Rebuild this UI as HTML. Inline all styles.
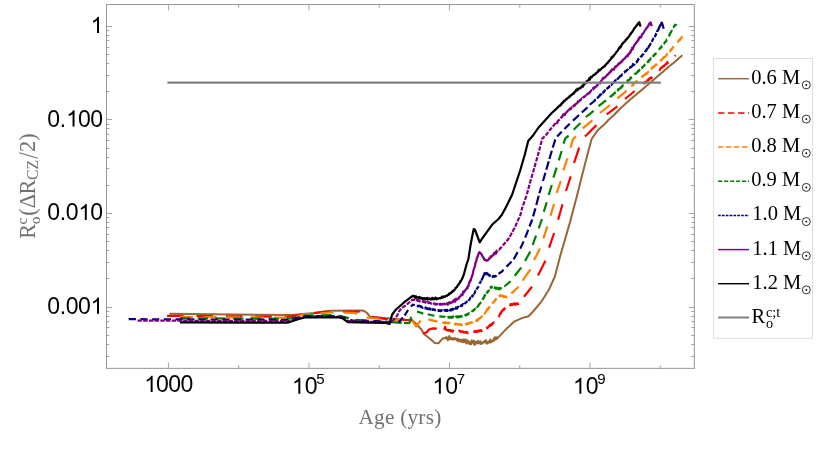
<!DOCTYPE html>
<html><head><meta charset="utf-8"><title>Plot</title>
<style>html,body{margin:0;padding:0;background:#fff;}svg{display:block;will-change:transform;}.sans{font-family:"Liberation Sans",sans-serif;}.serif{font-family:"Liberation Serif",serif;}</style>
</head><body>
<svg width="830" height="449" viewBox="0 0 830 449">
<rect width="830" height="449" fill="#fff"/>
<g fill="none" stroke-linejoin="round" stroke-linecap="butt">
<path d="M169.3,313.8 L292.0,315.0 L314.0,313.0 L329.8,310.7 L362.3,310.4 L365.0,311.5 L367.0,313.0 L370.0,316.7 L390.0,318.5 L405.0,319.8 L411.7,319.9 L414.3,322.0 L421.9,330.0 L423.4,333.4 L432.9,341.3 L434.5,342.9 L438.6,343.2 L440.0,341.4 L443.0,338.2 L446.0,338.2 L446.3,337.0 L446.7,337.1 L447.0,338.0 L447.0,337.8 L447.3,338.7 L447.6,339.6 L448.0,340.1 L448.3,337.8 L448.6,338.6 L449.0,337.5 L449.3,336.1 L449.6,338.9 L450.0,338.2 L450.3,337.5 L450.6,339.0 L450.9,339.4 L451.3,338.5 L451.6,338.2 L451.9,339.2 L452.3,339.4 L452.6,338.2 L452.9,338.4 L453.3,338.6 L453.6,339.6 L453.9,338.7 L454.2,339.3 L454.5,338.8 L454.6,337.9 L454.9,338.4 L455.2,338.2 L455.6,338.5 L455.9,339.3 L456.2,339.6 L456.6,339.9 L456.9,339.3 L457.2,338.8 L457.5,340.6 L457.9,338.7 L458.2,341.3 L458.5,339.1 L458.9,340.0 L459.2,340.1 L459.5,340.8 L459.9,340.7 L460.2,340.2 L460.5,341.6 L460.8,339.5 L461.2,340.8 L461.5,341.8 L461.7,340.7 L461.8,340.0 L462.2,341.5 L462.5,340.0 L462.8,341.6 L463.2,342.2 L463.5,339.4 L463.8,342.1 L464.1,339.4 L464.5,340.9 L464.8,340.8 L465.1,341.8 L465.5,342.5 L465.8,339.4 L466.1,341.3 L466.5,343.5 L466.8,342.4 L467.1,341.9 L467.4,340.3 L467.8,341.0 L468.1,341.9 L468.4,342.7 L468.8,343.4 L468.9,341.8 L469.1,342.8 L469.4,343.9 L469.8,343.9 L470.1,341.7 L470.4,344.0 L470.7,342.9 L471.1,344.2 L471.4,343.1 L471.7,340.3 L472.1,341.7 L472.4,341.6 L472.7,342.1 L473.1,342.9 L473.4,341.8 L473.7,340.7 L474.0,344.6 L474.4,341.2 L474.7,342.2 L475.0,341.6 L475.4,344.6 L475.7,342.2 L476.0,343.0 L476.2,342.7 L476.4,342.9 L476.7,342.8 L477.0,341.6 L477.3,342.2 L477.7,343.3 L478.0,341.8 L478.3,340.7 L478.7,343.6 L479.0,342.1 L479.3,342.0 L479.7,342.6 L480.0,343.2 L480.3,342.2 L480.6,341.2 L481.0,344.1 L481.3,343.5 L481.6,343.3 L482.0,343.4 L482.3,342.6 L482.6,343.5 L483.0,342.6 L483.3,342.4 L483.4,342.5 L483.6,342.3 L483.9,341.4 L484.3,341.3 L484.6,341.4 L484.9,341.8 L485.3,342.3 L485.6,342.7 L485.9,340.1 L486.3,341.3 L486.6,342.7 L486.9,343.8 L487.2,342.7 L487.6,342.0 L487.9,342.7 L488.2,342.6 L488.6,341.5 L488.9,342.7 L489.2,341.7 L489.6,341.8 L489.9,341.9 L490.2,339.4 L490.5,342.0 L490.6,341.4 L490.9,342.6 L491.2,341.8 L491.5,341.9 L491.9,340.9 L492.2,341.1 L492.5,341.2 L492.9,340.9 L493.2,340.0 L493.5,340.9 L493.8,338.4 L494.2,340.5 L494.5,339.6 L494.8,337.2 L495.0,339.0 L495.2,339.6 L495.5,339.5 L495.8,339.3 L496.2,338.5 L496.5,337.3 L496.8,338.9 L500.0,335.6 L506.8,328.4 L514.6,321.3 L522.4,317.9 L528.6,316.2 L534.0,310.5 L541.1,301.8 L542.8,299.4 L549.4,288.7 L554.8,276.7 L560.4,255.2 L569.4,224.4 L577.2,195.0 L582.8,172.4 L588.0,152.4 L591.6,139.0 L595.8,133.0 L598.0,130.0 L605.0,123.7 L608.9,119.5 L614.0,115.0 L620.0,108.8 L630.0,99.7 L643.4,88.4 L656.8,77.0 L665.0,70.0 L670.0,65.7 L673.8,62.7 L682.4,55.2" stroke="#996633" stroke-width="2.0"/>
<path d="M167.1,315.8 L183.6,315.9 M196.5,316.0 L213.0,316.2 M225.9,316.3 L242.4,316.4 M255.3,316.5 L271.8,316.7 M284.7,316.8 L287.0,316.8 L292.0,316.2 L298.0,315.2 L301.1,314.7 M313.9,313.1 L325.0,311.9 L330.3,311.9 M343.2,311.7 L358.7,311.6 L359.6,312.0 M371.3,316.8 L385.0,318.8 L387.7,319.0 M400.5,319.7 L412.8,320.5 M423.4,333.4 L426.7,332.3 L429.0,329.5 L432.9,328.4 L436.8,328.7 M444.2,329.9 L445.1,326.9 L446.0,329.9 L447.0,330.0 L447.3,330.2 L447.7,330.1 L448.0,330.5 L448.3,330.2 L448.6,329.9 L449.0,330.3 L449.3,330.6 L449.6,330.2 L450.0,330.7 L450.3,330.1 L450.6,331.0 L451.0,331.4 L451.3,331.4 L451.6,330.5 L451.9,331.0 L452.3,331.1 L452.6,331.7 L452.9,331.0 L453.3,330.7 L453.4,331.2 M458.9,331.2 L459.2,330.7 L459.5,331.1 L459.9,330.9 L460.2,330.9 L460.5,331.4 L460.9,332.0 L461.2,331.6 L461.5,331.5 L461.8,332.0 L462.2,332.0 L462.5,331.4 L462.8,331.4 L463.2,331.6 L463.5,332.3 L463.8,332.4 L464.2,332.2 L464.5,332.3 L464.8,332.2 L465.1,332.2 L465.5,332.7 L465.8,331.9 L466.1,332.1 L466.5,331.8 L466.8,332.8 L467.1,332.7 L467.5,333.0 L467.8,332.4 L467.8,332.6 M474.0,331.7 L474.1,331.9 L474.4,331.2 L474.7,331.3 L475.0,331.3 L475.4,331.0 L475.7,331.8 L476.0,331.4 L476.4,331.2 L476.7,331.9 L477.0,331.7 L477.4,331.2 L477.7,331.6 L478.0,331.1 L478.3,330.5 L478.7,330.7 L479.0,331.0 L479.3,330.7 L479.7,331.2 L480.0,330.4 L480.3,330.8 L480.7,330.1 L481.0,331.0 L481.3,331.1 L481.6,330.7 L482.0,330.7 L482.3,330.4 M486.8,327.8 L486.9,327.4 L487.3,328.3 L487.6,327.7 L487.9,327.4 L488.2,327.0 L488.6,326.6 L488.9,326.0 L489.2,326.0 L489.6,325.9 L489.9,324.9 L490.2,325.9 L490.5,325.5 L490.6,325.1 L490.9,324.5 L491.2,324.9 L491.5,325.0 L491.9,325.0 L492.2,323.9 L492.5,323.1 L492.9,323.1 L493.2,323.2 L493.5,322.9 L493.9,322.4 L494.2,322.3 L494.5,322.3 M498.4,317.0 L498.5,316.9 L498.8,316.7 L499.1,316.2 L499.5,315.1 L499.8,314.2 L500.1,313.6 L500.5,314.0 L500.8,312.6 L501.1,312.9 L501.4,311.6 L501.8,311.6 L502.1,310.8 L502.4,310.7 L502.7,310.0 L502.8,310.5 L503.1,310.0 L503.4,309.9 L503.8,308.8 L504.1,309.4 L504.4,309.1 L504.7,308.3 L505.1,308.4 L505.3,308.0 M510.0,304.8 L510.0,305.2 L510.4,305.0 L510.7,304.2 L511.0,304.6 L511.3,305.0 L511.7,304.2 L512.0,304.5 L512.3,304.9 L512.7,304.3 L513.0,303.8 L513.3,304.4 L513.7,304.2 L514.0,303.4 L514.3,304.4 L514.6,303.6 L515.0,304.0 L515.3,304.8 L515.6,303.6 L516.0,303.9 L516.3,303.4 L516.6,304.0 L517.0,303.6 L517.3,304.1 L517.6,303.6 L517.9,304.1 L518.3,303.9 L518.6,303.4 L518.7,303.4 M524.0,296.7 L532.0,286.7 M538.0,275.4 L545.4,260.7 M549.1,247.7 L554.1,233.0 M558.1,219.7 L562.5,204.3 M566.0,191.0 L570.7,176.4 M574.0,163.0 L579.2,147.7 M584.8,136.3 L586.8,134.8 L596.5,125.0 M606.7,114.4 L617.4,106.4 M625.0,99.0 L634.7,91.0 M643.4,83.7 L643.6,83.1 L644.0,82.8 L644.3,83.4 L644.6,83.0 L645.0,82.2 L645.3,82.1 L645.6,82.3 L645.9,82.1 L646.3,81.5 L646.6,81.2 L646.9,81.1 L647.3,80.6 L647.6,80.1 L647.9,80.5 L648.3,80.5 L648.6,78.8 L648.9,79.9 L649.2,78.9 L649.6,78.3 L649.9,78.6 L650.2,78.5 L650.6,77.8 L650.9,77.3 L651.2,77.7 L651.6,78.2 L651.9,77.4 L652.1,77.0 M659.5,69.5 L659.8,70.0 L660.1,69.0 L660.5,68.6 L660.8,68.2 L661.1,68.0 L661.5,67.4 L661.8,67.2 L662.1,67.7 L662.4,67.1 L662.8,66.4 L663.1,66.5 L663.4,65.8 L663.8,65.7 L664.1,66.2 L664.4,65.5 L664.8,64.8 L665.1,64.9 L665.4,64.5 L665.7,63.9 L666.1,64.1 L666.4,63.7 L666.7,63.9 L667.1,62.8 L667.4,62.0 L667.7,62.5 L668.1,62.7 L668.2,62.2 M674.9,56.1 L675.0,55.9 L675.3,55.8 L675.6,55.7 L675.8,55.6" stroke="#ff0000" stroke-width="2.2"/>
<path d="M179.9,316.9 L193.1,317.0 M203.4,317.1 L216.6,317.2 M226.9,317.3 L240.1,317.3 M250.4,317.4 L263.6,317.5 M273.9,317.6 L287.0,317.7 L287.1,317.7 M297.3,315.9 L298.0,315.8 L305.0,314.5 L310.3,314.1 M320.6,313.3 L330.0,312.5 L333.8,312.5 M344.1,312.7 L354.0,312.8 L357.0,314.1 M366.5,317.5 L379.6,318.9 M389.9,319.7 L403.1,320.3 M412.1,320.7 L416.1,326.5 L420.6,320.5 M428.2,319.4 L437.5,321.6 M442.3,322.4 L445.0,323.3 L445.3,322.2 L445.7,323.2 L446.0,323.1 L446.3,322.8 L446.6,322.7 L447.0,323.1 L447.3,323.2 L447.6,322.8 L448.0,323.6 L448.3,323.3 L448.6,322.6 L449.0,322.7 L449.3,323.0 L449.6,323.1 L449.9,323.2 L450.0,323.5 M454.7,324.1 L454.9,323.7 L455.2,324.6 L455.6,323.9 L455.9,324.2 L456.2,323.9 L456.5,323.8 L456.9,324.0 L457.2,324.0 L457.5,324.4 L457.9,324.5 L458.2,324.5 L458.5,324.5 L458.9,324.4 L459.2,324.1 L459.5,324.6 L459.8,324.6 L460.2,324.8 L460.5,324.4 L460.8,324.8 L461.2,324.3 L461.5,325.2 L461.8,325.2 L462.2,324.6 L462.3,324.7 M465.6,324.2 L465.8,324.0 L466.1,324.5 L466.4,324.2 L466.8,323.9 L467.1,323.3 L467.4,323.2 L467.8,324.1 L468.1,323.7 L468.4,323.1 L468.8,323.3 L469.1,322.9 L469.4,323.2 L469.7,323.4 L470.1,322.8 L470.4,323.0 L470.7,322.9 L471.1,322.3 L471.4,322.7 L471.7,322.2 L472.1,322.4 L472.4,322.5 L472.7,322.5 L472.8,322.3 M476.2,320.6 L476.3,321.0 L476.7,319.8 L477.0,321.1 L477.3,320.2 L477.7,319.2 L478.0,320.0 L478.3,319.4 L478.7,319.0 L479.0,318.9 L479.3,318.3 L479.6,317.9 L480.0,318.2 L480.3,318.2 L480.6,317.7 L481.0,317.2 L481.3,317.3 L481.6,316.6 L482.0,316.4 L482.3,316.6 L482.3,316.7 M484.5,313.4 L484.6,313.7 L484.9,313.7 L485.3,312.5 L485.6,311.9 L485.9,311.6 L486.2,311.3 L486.6,310.9 L486.7,310.5 L486.9,309.3 L487.2,309.4 L487.6,309.6 L487.9,308.5 L488.2,309.2 L488.6,308.5 L488.9,307.4 L489.2,307.3 L489.5,307.4 L489.9,306.7 L490.1,306.5 M492.2,303.6 L492.5,303.3 L492.8,302.7 L493.2,302.5 L493.5,302.4 L493.8,301.8 L494.2,301.2 L494.5,301.4 L494.8,301.0 L495.2,299.8 L495.5,299.7 L495.8,299.8 L496.1,298.8 L496.5,298.7 L496.7,298.5 M498.7,296.6 L498.8,296.5 L499.1,296.4 L499.4,295.9 L499.8,296.0 L500.0,295.4 L500.1,295.1 L500.4,295.9 L500.8,296.1 L501.1,295.8 L501.4,295.5 L501.8,295.5 L502.1,295.8 L502.4,295.7 L502.7,295.6 L503.0,296.2 L503.1,296.2 L503.4,295.8 L503.7,297.2 L504.1,296.4 L504.4,296.4 L504.7,296.6 L505.1,296.8 L505.4,296.3 L505.7,296.9 L506.0,296.6 L506.4,297.6 L506.7,297.2 M511.4,293.4 L511.7,292.9 L512.0,292.9 L518.7,286.7 M522.7,280.7 L527.8,273.0 L530.6,269.5 M534.0,260.0 L536.7,255.0 L540.0,248.4 M543.4,238.4 L547.4,226.4 M550.5,215.7 L554.1,203.7 M556.7,193.0 L560.7,181.0 M563.4,170.4 L567.4,158.4 M570.5,147.7 L572.8,139.5 L575.9,136.3 M582.7,128.4 L592.4,120.4 M600.0,113.0 L610.0,105.0 M617.4,98.4 L625.0,92.2 L625.3,91.9 L625.7,91.1 L626.0,91.2 L626.0,91.3 M631.4,86.4 L631.6,86.2 L631.9,85.8 L632.3,85.2 L632.6,84.7 L632.9,84.8 L633.3,85.0 L633.6,83.5 L633.9,83.5 L634.2,83.3 L634.6,83.1 L634.9,82.8 L635.2,82.4 L635.6,82.1 L635.9,81.9 L636.2,82.0 L636.6,81.1 L636.9,80.9 L637.2,80.8 L637.4,80.4 M642.0,77.0 L642.2,76.4 L642.5,77.1 L642.8,76.4 L643.2,76.2 L643.5,75.5 L643.8,75.5 L644.1,74.9 L644.5,74.7 L644.8,74.8 L645.1,74.8 L645.5,74.1 L645.8,73.5 L646.1,73.3 L646.5,73.9 L646.8,73.7 L647.1,73.2 L647.4,72.7 L647.8,72.4 L648.1,72.1 L648.4,71.7 L648.8,71.7 L648.8,71.7 M651.2,68.6 L651.4,68.8 L651.7,67.8 L652.1,68.0 L652.4,68.3 L652.7,66.9 L653.1,66.9 L653.4,66.9 L653.7,67.0 L654.0,66.2 L654.4,66.1 L654.7,66.2 L655.0,65.3 L655.4,65.3 L655.7,64.9 L656.0,64.3 L656.4,64.7 L656.7,64.7 L657.0,64.0 M660.6,60.5 L660.6,60.6 L661.0,59.9 L661.3,60.2 L661.6,59.8 L662.0,59.2 L662.3,59.4 L662.6,58.9 L663.0,58.2 L663.3,57.9 L663.6,57.6 L663.9,57.1 L664.3,57.4 L664.6,57.0 L664.9,56.8 L665.3,56.8 L665.6,56.0 L665.9,55.6 L666.3,55.0 L666.6,55.3 L666.9,54.1 L667.0,54.5 M669.8,51.3 L669.9,51.4 L670.2,51.0 L670.5,50.1 L670.9,49.7 L671.2,50.2 L671.5,48.9 L671.9,48.9 L672.2,48.9 L672.5,47.9 L672.9,47.2 L673.2,47.3 L673.5,46.8 L673.8,46.5 M677.8,41.5 L677.8,41.5 L678.1,41.9 L678.5,40.7 L678.8,40.7 L679.1,40.4 L679.5,39.7 L679.8,40.2 L680.1,39.4 L680.4,39.2 L680.8,38.2 L681.1,38.5 L681.4,37.6 L681.8,37.0 L681.8,37.4" stroke="#ff8000" stroke-width="2.2"/>
<path d="M179.9,318.2 L190.3,318.3 M197.6,318.3 L208.0,318.4 M215.3,318.4 L225.7,318.5 M233.0,318.5 L243.4,318.6 M250.7,318.6 L261.1,318.7 M268.4,318.7 L278.8,318.8 M286.1,318.8 L287.0,318.8 L292.0,318.0 L296.4,317.1 M303.6,315.8 L305.0,315.5 L313.9,315.4 M321.2,315.3 L331.6,315.2 M338.9,315.8 L345.0,317.0 L348.9,318.4 M356.0,319.8 L366.4,320.5 M373.7,321.1 L380.0,321.5 L384.1,321.8 M391.3,322.2 L401.7,322.9 M404.0,323.0 L406.8,323.2 L409.5,323.0 L410.3,320.0 L411.2,316.7 M417.0,311.5 L423.3,313.6 M427.7,314.3 L434.4,315.8 M439.3,316.3 L445.0,316.8 L445.1,317.0 M447.7,317.2 L448.0,316.8 L448.3,317.3 L448.6,317.1 L449.0,317.7 L449.3,316.8 L449.6,317.1 L449.9,317.7 L450.3,317.7 L450.6,317.6 L450.9,316.8 L451.3,317.3 L451.6,317.8 L451.9,317.3 L452.3,317.0 L452.6,317.4 L452.9,317.2 L453.2,316.5 L453.5,317.3 M455.8,317.7 L455.9,317.6 L456.2,316.4 L456.5,316.9 L456.7,317.1 L456.9,316.8 L457.2,316.5 L457.5,317.5 L457.9,316.7 L458.2,317.3 L458.5,316.3 L458.9,316.4 L459.2,317.2 L459.5,316.4 L459.8,316.4 L460.2,316.8 L460.5,316.3 L460.8,316.7 L461.2,316.3 L461.5,315.9 L461.8,316.6 L462.2,316.4 L462.3,316.2 M464.5,315.6 L464.8,315.3 L465.1,315.2 L465.5,315.0 L465.8,315.4 L466.1,315.1 L466.4,314.6 L466.8,314.3 L467.1,314.0 L467.4,314.8 L467.8,314.0 L468.1,313.6 L468.4,314.3 L468.8,313.5 L469.1,313.3 L469.4,313.3 L469.5,313.4 M471.7,311.7 L471.7,311.6 L472.1,311.2 L472.4,311.1 L472.7,310.6 L473.0,311.0 L473.4,310.1 L473.7,310.4 L474.0,310.2 L474.4,309.4 L474.7,309.3 L475.0,309.1 L475.4,308.6 L475.6,308.9 M477.3,306.7 L477.3,307.0 L477.7,306.2 L478.0,306.2 L478.3,306.0 L478.7,304.7 L479.0,304.4 L479.3,304.5 L479.6,303.6 L480.0,303.5 L480.3,303.1 L480.6,302.5 L481.0,302.6 L481.2,302.2 M482.7,299.8 L482.9,298.4 L483.3,298.5 L483.6,298.3 L483.9,296.9 L484.3,296.9 L484.6,295.5 L484.9,294.8 L485.0,295.0 L485.3,295.1 L485.3,295.0 M486.5,293.5 L486.6,293.4 L486.9,292.7 L487.2,292.2 L487.5,292.0 L487.6,292.1 L487.9,291.1 L488.2,291.6 L488.6,290.7 L488.9,290.1 L489.0,289.6 M490.0,287.7 L490.2,287.5 L490.5,287.8 L490.9,287.1 L491.2,287.1 L491.5,286.9 L491.5,286.6 L491.9,287.5 L492.2,287.0 L492.5,286.8 L492.7,286.8 M494.0,287.4 L494.2,287.6 L494.5,287.5 L494.5,287.9 L494.8,287.8 L495.2,287.7 L495.5,288.5 L495.8,288.2 L496.1,287.7 L496.5,288.8 L496.8,288.0 L497.1,288.7 L497.5,288.6 L497.8,288.0 L498.1,288.2 L498.5,289.1 L498.8,288.2 L499.1,288.5 L499.4,289.4 L499.8,288.1 L500.0,288.6 L500.1,288.0 L500.4,287.9 L500.8,288.5 L501.1,287.2 L501.1,287.2 M504.5,285.8 L504.7,286.0 L510.3,281.5 L510.5,281.2 M514.8,275.8 L515.0,275.5 L521.2,267.6 L521.3,267.4 M525.0,261.0 L525.6,260.0 L530.0,252.0 L530.2,251.5 M532.7,245.0 L536.0,235.7 M538.7,228.4 L542.0,219.0 M543.8,211.7 L546.7,202.3 M548.7,195.0 L551.8,185.0 M553.4,177.7 L556.7,167.7 M558.7,160.4 L561.7,151.0 M563.4,143.7 L565.3,138.4 L568.6,135.7 M573.7,129.7 L580.4,123.0 M585.8,117.0 L590.0,113.8 L593.6,110.8 M598.6,106.1 L606.0,100.4 M610.0,97.3 L610.3,96.6 L610.6,96.4 L611.0,96.5 L611.3,95.9 L611.6,96.1 L612.0,95.6 L612.3,95.1 L612.6,94.5 L613.0,94.5 L613.3,94.6 L613.6,94.1 L613.9,93.4 L614.0,93.7 L614.3,93.5 L614.6,92.8 L614.9,92.4 L615.3,92.9 L615.4,92.7 M617.4,91.1 L617.6,90.9 L617.9,89.7 L618.2,89.4 L618.6,89.6 L618.9,89.0 L619.2,89.0 L619.6,88.5 L619.9,88.6 L620.2,88.1 L620.5,88.0 L620.9,87.2 L621.2,86.8 L621.5,87.7 L621.9,86.8 L622.0,86.4 L622.2,85.8 L622.5,86.3 L622.9,85.2 L623.2,85.5 L623.4,85.4 M626.7,81.7 L626.8,81.7 L627.1,81.4 L627.5,81.5 L627.8,80.2 L628.1,80.8 L628.5,80.3 L628.8,80.3 L629.1,80.0 L629.5,79.7 L629.8,79.5 L630.0,79.0 L630.1,79.2 L630.4,77.7 L630.8,78.4 L631.1,77.5 L631.4,77.8 L631.8,77.4 L632.0,77.3 M634.7,73.9 L634.7,73.8 L635.1,74.0 L635.4,74.0 L635.7,73.8 L636.1,73.7 L636.4,73.2 L636.7,72.6 L637.0,72.8 L637.4,72.4 L637.7,71.4 L638.0,71.3 L638.4,70.9 L638.7,71.2 L639.0,70.6 L639.4,69.8 L639.7,69.9 L640.0,69.4 M641.5,68.0 L641.7,68.0 L641.7,68.0 L642.0,68.2 L642.3,67.1 L642.7,67.3 L643.0,66.6 L643.3,66.7 L643.6,66.1 L644.0,65.5 L644.3,65.5 L644.6,64.7 L645.0,65.1 L645.2,64.9 M647.2,62.6 L647.3,62.4 L647.6,62.0 L647.9,62.3 L648.3,61.8 L648.4,61.4 L648.6,60.4 L648.9,61.3 L649.3,60.0 L649.6,59.7 L649.9,59.9 L650.2,59.2 L650.6,58.8 L650.9,58.2 L651.2,58.3 M652.9,56.9 L653.2,55.9 L653.5,55.9 L653.9,55.1 L654.2,55.2 L654.5,55.2 L654.9,54.1 L655.0,54.3 L655.2,53.6 L655.5,54.1 L655.9,52.9 L655.9,52.8 M658.8,49.8 L658.8,49.8 L659.2,49.4 L659.5,48.7 L659.8,48.4 L660.1,48.3 L660.4,48.0 L660.5,48.3 L660.8,47.1 L661.1,47.1 L661.5,47.2 L661.8,45.9 L661.9,45.9 M663.9,43.9 L664.1,43.8 L664.4,42.7 L664.8,42.3 L665.1,41.8 L665.4,42.0 L665.8,41.4 L665.8,41.4 L666.1,41.2 L666.4,40.6 L666.7,39.6 L667.1,39.4 L667.1,39.4 M668.7,36.1 L668.7,36.1 L669.1,35.3 L669.4,35.6 L669.7,34.2 L669.8,34.4 L670.0,33.5 L670.4,32.8 L670.7,32.8 L671.0,32.1 L671.4,31.0 L671.7,30.7 L671.9,30.0 M673.1,27.5 L673.3,27.5 L673.7,27.2 L674.0,26.1 L674.3,26.3 L674.7,25.8 L675.0,24.8 L675.3,24.7 L675.7,24.9 L676.0,24.7 L676.0,24.0" stroke="#008000" stroke-width="2.2"/>
<path d="M128.7,319.2 L135.9,319.2 M140.4,319.2 L147.6,319.3 M152.1,319.3 L159.3,319.3 M163.8,319.3 L171.0,319.4 M175.5,319.4 L182.7,319.4 M187.2,319.4 L194.4,319.4 M198.9,319.5 L206.1,319.5 M210.6,319.5 L217.8,319.5 M222.3,319.6 L229.5,319.6 M234.0,319.6 L241.2,319.6 M245.7,319.6 L252.9,319.7 M257.4,319.7 L264.6,319.7 M269.1,319.7 L276.3,319.8 M280.8,319.8 L287.0,319.8 L288.0,319.6 M292.5,318.9 L298.0,317.5 L299.5,317.2 M303.9,316.2 L305.0,316.0 L311.0,316.0 M315.5,316.0 L322.7,316.0 M327.2,316.0 L334.4,316.0 M338.9,316.6 L345.0,318.0 L345.9,318.3 M350.2,319.7 L352.0,320.3 L357.3,320.5 M361.7,320.6 L368.9,320.9 M373.4,321.1 L380.0,321.3 L380.6,321.3 M385.1,321.6 L392.3,322.0 M396.8,322.2 L397.0,322.2 M398.4,322.3 L400.5,320.5 L402.8,317.5 M404.5,315.5 L405.0,314.9 L408.1,310.0 M410.8,306.5 L413.0,304.7 L414.8,305.1 M417.5,305.6 L417.6,306.1 L418.0,305.6 L418.3,306.1 L418.6,306.4 L419.0,305.8 L419.3,305.7 L419.6,306.0 L419.9,306.2 L420.3,306.5 L420.6,306.4 L420.9,306.8 L421.3,306.5 L421.6,307.4 L421.9,307.2 L422.3,307.3 L422.6,307.8 L422.8,307.4 M425.0,308.1 L425.2,308.4 L425.6,307.4 L425.9,307.9 L426.2,307.8 L426.5,308.4 L426.9,308.2 L427.2,308.8 L427.5,309.0 L427.9,308.6 L428.2,308.8 L428.5,308.9 L428.9,309.2 L429.2,308.4 L429.5,308.6 L429.8,308.5 L430.2,309.5 L430.4,309.1 M431.7,309.4 L431.8,309.3 L432.2,309.5 L432.5,310.0 L432.8,310.0 L433.1,309.2 L433.5,309.3 L433.8,309.3 L434.1,309.5 L434.5,309.7 L434.8,309.5 L435.1,310.3 L435.5,310.2 L435.7,310.0 M437.9,310.4 L438.1,310.2 L438.4,310.9 L438.8,310.1 L439.1,310.4 L439.4,310.9 L439.7,310.7 L440.1,310.6 L440.4,311.2 L440.7,310.3 L441.1,310.8 L441.4,310.9 L441.7,310.1 L442.0,310.6 M444.0,310.4 L444.0,310.3 L444.4,310.3 L444.7,310.6 L445.0,310.4 L445.4,309.9 L445.7,310.3 L446.0,310.8 L446.3,310.0 L446.7,310.9 L447.0,310.2 L447.3,309.9 L447.7,310.8 L447.7,310.3 L448.0,309.8 L448.0,309.8 M449.8,309.9 L450.0,310.5 L450.3,309.8 L450.6,309.7 L451.0,309.5 L451.3,309.2 L451.6,310.4 L452.0,309.8 L452.3,308.9 L452.6,309.3 L452.9,309.1 L453.3,309.2 L453.5,309.0 L453.6,309.5 L453.7,309.2 M455.2,307.9 L455.3,307.8 L455.6,308.5 L455.9,307.5 L456.2,308.4 L456.6,308.3 L456.9,308.6 L457.2,307.6 L457.6,307.1 L457.9,306.9 L458.2,307.2 L458.6,306.9 L458.6,307.0 M460.0,306.4 L460.2,306.2 L460.5,306.2 L460.9,305.6 L461.2,305.5 L461.5,305.2 L461.9,306.0 L462.2,305.1 L462.5,304.9 L462.8,304.1 L463.2,304.3 L463.4,304.4 M464.5,304.1 L464.8,303.3 L465.2,303.4 L465.5,303.2 L465.8,302.3 L466.1,302.4 L466.5,302.2 L466.8,301.9 L467.1,301.4 L467.3,301.5 M468.4,300.9 L468.5,300.8 L468.8,300.2 L469.1,299.9 L469.4,299.6 L469.8,299.3 L470.1,298.3 L470.4,297.7 L470.6,298.1 M471.7,296.6 L471.8,296.3 L472.1,296.0 L472.4,296.5 L472.7,295.4 L473.1,295.6 L473.4,295.0 M474.0,294.4 L474.1,294.2 L474.4,293.3 L474.7,292.9 L475.1,292.0 L475.4,291.0 L475.5,291.1 M476.5,289.7 L476.7,289.1 L477.0,288.3 L477.4,288.3 L477.7,287.3 L478.0,287.0 L478.0,287.4 L478.4,286.8 L478.5,286.5 M479.5,283.8 L479.7,283.1 L480.0,283.0 L480.3,282.6 L480.7,281.3 L481.0,280.7 L481.0,280.7 M481.5,280.5 L481.7,280.1 L482.0,279.1 L482.0,279.0 L482.3,278.8 L482.6,278.1 L483.0,276.8 L483.3,276.1 L483.6,275.8 L484.0,274.7 L484.3,274.1 L484.5,273.6 L484.6,273.1 L485.0,273.3 L485.3,273.7 L485.6,274.1 L485.9,273.7 L486.3,273.3 L486.6,272.9 L486.9,273.2 L487.0,273.6 L487.3,274.3 L487.6,273.6 L487.9,274.1 L488.3,274.5 L488.6,274.8 L488.9,275.4 L489.2,275.6 L489.6,275.0 L489.9,276.0 L490.0,276.0 L490.2,275.9 L490.5,276.3 M492.5,276.6 L492.5,276.8 L492.9,276.8 L493.2,275.8 L493.5,276.7 L493.9,276.7 L494.0,276.8 L494.2,276.5 L494.5,276.4 L494.9,276.6 L495.2,276.1 L495.5,275.9 L495.8,276.2 L496.2,275.9 L496.5,275.4 M498.5,273.8 L502.0,271.5 L503.5,269.7 M506.5,266.6 L510.7,262.5 L511.5,261.6 M513.5,259.3 L513.8,259.0 L517.4,252.6 L517.7,252.2 M520.2,248.7 L520.4,248.4 L523.6,241.4 M525.2,237.7 L528.2,229.8 M529.5,226.5 L532.2,219.5 M533.1,216.4 L535.4,208.4 M536.3,205.0 L538.7,195.8 M539.4,193.3 L541.4,186.5 M543.0,181.0 L545.4,172.8 M546.3,169.7 L548.7,161.4 M549.4,159.0 L551.8,150.8 M552.7,147.7 L555.2,139.8 L555.4,139.5 M557.2,136.6 L557.4,136.3 L561.7,131.7 M564.4,129.0 L569.7,123.7 M573.0,120.6 L579.0,115.0 M581.8,112.5 L587.5,107.4 M589.8,104.7 L590.0,104.5 L593.0,102.2 L593.3,101.7 L593.7,101.4 L594.0,101.2 L594.3,101.1 L594.7,101.0 L595.0,99.9 L595.0,100.0 M597.0,98.3 L597.3,98.1 L597.6,97.3 L598.0,97.3 L598.3,97.4 L598.6,96.8 L598.9,96.5 L599.3,95.7 L599.6,95.6 L599.9,95.0 L600.3,95.4 L600.6,94.5 L600.9,94.3 L601.3,94.2 L601.6,93.8 L601.8,93.6 M602.5,92.5 L602.6,92.4 L602.9,92.7 L603.2,92.5 L603.4,92.0 L603.6,91.6 L603.9,92.3 L604.2,91.1 L604.6,91.1 L604.9,90.7 L605.2,89.9 L605.4,89.6 M606.7,89.2 L606.9,89.0 L607.2,88.3 L607.5,87.9 L607.9,87.7 L608.2,87.9 L608.5,87.4 L608.8,86.7 L609.2,86.8 L609.5,86.8 L609.8,86.0 L610.0,86.0 M611.4,84.8 L611.5,84.9 L611.8,84.1 L612.1,83.0 L612.5,83.8 L612.8,82.8 L613.1,83.1 L613.5,82.7 L613.8,82.3 L614.1,82.0 L614.5,81.9 L614.8,81.0 L615.1,81.8 L615.4,80.4 L615.8,80.1 L616.0,80.7 M617.4,78.9 L617.4,78.8 L617.8,79.0 L618.1,78.6 L618.4,78.1 L618.7,77.7 L619.1,77.4 L619.4,77.2 L619.7,77.2 L620.1,76.1 L620.4,75.8 L620.7,76.0 L621.1,75.3 L621.4,75.6 L621.7,75.2 L622.0,74.6 L622.4,74.4 L622.7,74.5 M624.0,72.6 L624.0,72.6 L624.4,72.5 L624.7,71.8 L625.0,71.4 L625.3,71.5 L625.7,70.9 L626.0,71.4 L626.3,70.9 L626.7,70.4 L627.0,70.0 L627.0,70.0 L627.3,69.9 L627.7,69.4 L628.0,69.1 L628.0,69.0 M629.4,67.9 L629.6,68.0 L630.0,67.4 L630.0,67.7 L630.3,67.7 L630.6,66.8 L631.0,67.1 L631.3,66.9 L631.6,66.6 L631.9,66.2 L632.3,66.1 L632.6,65.7 L632.9,64.2 L633.3,64.7 L633.6,64.8 L633.9,64.5 L634.3,64.7 L634.5,63.8 M636.0,62.4 L636.2,62.2 L636.6,62.4 L636.9,61.2 L637.2,61.7 L637.6,60.5 L637.9,60.4 L638.2,59.1 L638.5,58.9 L638.9,59.0 L639.2,58.7 M640.5,57.4 L640.5,57.4 L640.9,56.7 L641.2,56.2 L641.5,55.8 L641.7,56.0 L641.8,56.3 L642.2,55.5 L642.5,54.7 L642.8,54.5 L643.2,54.1 L643.5,54.0 L643.6,53.7 M645.0,52.1 L645.1,51.5 L645.5,51.5 L645.8,50.5 L646.1,50.0 L646.5,50.3 L646.8,49.1 L647.1,48.8 L647.5,48.4 L647.7,47.9 M648.4,47.4 L648.4,47.7 L648.8,46.5 L649.1,45.8 L649.4,45.8 L649.8,45.2 L650.1,44.9 L650.4,43.7 L650.8,43.3 L651.0,43.0 M651.7,41.9 L651.7,41.9 L652.1,41.0 L652.4,40.2 L652.7,39.8 L653.1,39.5 L653.4,38.3 L653.7,38.2 M654.4,36.9 L654.7,36.7 L655.0,36.0 L655.0,36.1 L655.4,35.4 L655.7,35.5 L656.0,33.7 L656.4,33.5 L656.4,33.4 M657.0,31.9 L657.0,31.8 L657.4,31.1 L657.7,30.6 L658.0,29.6 L658.3,29.8 L658.7,28.8 L659.0,28.0 L659.0,27.5 L659.3,27.1 L659.7,26.9 L660.0,25.3 L660.3,25.3 L660.7,24.8 L661.0,24.5 L661.3,23.2 L661.6,22.9 L662.0,23.1 L662.0,22.7 L663.7,28.7" stroke="#000080" stroke-width="2.2"/>
<path d="M137.5,320.6 L141.8,320.6 M143.2,320.6 L147.5,320.6 M148.9,320.6 L153.2,320.6 M154.6,320.6 L158.9,320.7 M160.3,320.7 L164.6,320.7 M166.0,320.7 L170.3,320.7 M171.7,320.7 L176.0,320.7 M177.4,320.7 L181.7,320.7 M183.1,320.7 L187.4,320.7 M188.8,320.7 L193.1,320.7 M194.5,320.8 L198.8,320.8 M200.2,320.8 L204.5,320.8 M205.9,320.8 L210.2,320.8 M211.6,320.8 L215.9,320.8 M217.3,320.8 L221.6,320.8 M223.0,320.8 L227.3,320.8 M228.7,320.8 L233.0,320.9 M234.4,320.9 L238.7,320.9 M240.1,320.9 L244.4,320.9 M245.8,320.9 L250.1,320.9 M251.5,320.9 L255.8,320.9 M257.2,320.9 L261.5,320.9 M262.9,320.9 L267.2,320.9 M268.6,321.0 L272.9,321.0 M274.3,321.0 L278.6,321.0 M280.0,321.0 L284.3,321.0 M285.7,321.0 L287.0,321.0 L290.0,320.4 M291.4,320.1 L292.0,320.0 L295.5,319.0 M296.9,318.6 L298.0,318.3 L301.0,317.5 M302.4,317.2 L305.0,316.5 L306.6,316.5 M308.0,316.5 L312.3,316.5 M313.7,316.5 L318.0,316.5 M319.4,316.5 L323.7,316.5 M325.1,316.5 L329.4,316.5 M330.8,316.5 L335.1,316.5 M336.5,316.5 L338.0,316.5 L340.7,317.2 M342.1,317.6 L343.0,317.8 L345.8,319.6 M347.0,320.4 L348.0,321.0 L351.1,321.1 M352.5,321.2 L356.8,321.3 M358.2,321.4 L362.5,321.5 M363.9,321.6 L368.2,321.7 M369.6,321.8 L370.0,321.8 L373.9,321.9 M375.3,321.9 L379.6,322.0 M381.0,322.1 L385.3,322.2 M386.7,322.2 L390.3,322.3 L390.9,321.9 M392.0,321.2 L393.0,320.5 L395.1,318.1 M396.0,317.1 L397.0,316.0 L398.2,313.4 M398.8,312.1 L399.3,311.0 L401.1,308.7 M402.0,307.5 L405.0,306.0 L405.7,305.4 M406.8,304.5 L410.1,301.7 M411.1,300.9 L412.6,299.6 L414.9,300.0 M416.3,300.6 L416.3,300.6 L416.6,299.3 L417.0,300.1 L417.0,300.5 L417.3,300.2 L417.6,300.2 L418.0,300.9 L418.3,300.3 L418.6,300.7 L419.0,300.7 L419.3,301.4 L419.6,300.7 L419.9,301.3 L420.3,301.5 L420.5,301.5 M421.9,301.1 L421.9,301.1 L422.3,301.4 L422.6,301.3 L422.8,301.6 L422.9,301.4 L423.2,301.9 L423.6,301.8 L423.9,301.5 L424.2,301.9 L424.6,301.6 L424.9,302.5 L425.2,302.5 L425.6,301.7 L425.9,302.5 L426.1,302.3 M427.5,302.6 L427.5,302.6 L427.9,302.1 L428.2,302.3 L428.5,303.1 L428.9,302.4 L429.2,302.3 L429.5,302.8 L429.8,302.8 L430.2,303.1 L430.5,303.1 L430.8,303.4 L431.2,303.7 L431.5,303.5 L431.7,303.7 M433.1,303.2 L433.1,303.2 L433.5,303.5 L433.8,303.5 L434.1,303.4 L434.5,304.1 L434.8,303.8 L435.1,303.6 L435.5,304.5 L435.8,304.2 L436.1,304.0 L436.2,304.2 L436.4,304.2 L436.8,304.4 L437.1,303.8 L437.3,304.3 M438.7,304.1 L438.8,304.1 L439.1,304.0 L439.4,304.6 L439.7,303.9 L440.0,303.9 M440.0,303.9 L440.1,303.9 L440.4,304.7 L440.7,303.8 L441.1,304.2 L441.4,304.6 L441.7,304.7 L442.1,304.6 L442.4,304.2 L442.7,303.9 L443.0,304.1 L443.4,303.8 L443.7,303.8 L444.0,304.3 L444.4,304.0 L444.7,303.7 L445.0,304.1 L445.1,304.2 L445.4,304.2 L445.7,304.2 L446.0,303.8 L446.3,303.7 L446.7,303.4 L447.0,304.0 L447.3,303.3 L447.7,304.8 L448.0,303.3 L448.3,303.0 L448.7,303.7 L449.0,303.3 L449.3,302.1 L449.6,303.3 L450.0,302.6 L450.3,303.2 L450.6,303.1 L451.0,302.5 L451.3,302.9 L451.3,302.5 L451.6,302.5 L452.0,302.3 L452.3,301.7 L452.6,302.1 L452.9,301.2 L453.3,301.9 L453.6,300.9 L453.9,300.6 L454.3,299.7 L454.6,300.2 L454.9,300.2 L455.3,301.7 L455.6,299.8 L455.9,298.5 L456.2,299.2 L456.6,299.8 L456.9,299.8 L457.2,298.8 L457.6,299.1 L457.9,298.9 L458.2,298.6 L458.4,298.5 L458.6,298.7 L458.9,298.0 L459.2,297.2 L459.5,296.8 L459.9,296.5 L460.2,296.7 L460.5,296.3 L460.9,295.6 L461.2,295.3 L461.5,294.4 L461.9,294.7 L462.2,294.5 L462.5,295.0 L462.8,293.4 L463.2,291.6 L463.5,292.7 L463.6,292.5 L463.8,292.5 L464.2,291.5 L464.5,291.0 L464.8,291.2 L465.2,290.4 L465.5,289.8 L465.8,289.5 L466.1,289.1 L466.2,289.4 L466.5,289.2 L466.8,287.8 L467.1,287.4 L467.5,288.2 L467.8,286.4 L468.1,285.9 L468.5,286.3 L468.8,284.0 L469.1,283.5 L469.4,282.1 L469.5,283.0 L469.8,281.8 L470.1,280.3 L470.4,280.2 L470.8,280.6 L471.1,279.1 L471.4,277.7 L471.8,277.1 L472.1,275.5 L472.4,275.0 L472.4,275.4 L472.7,274.6 L473.1,272.1 L473.4,270.8 L473.7,269.6 L474.1,268.4 L474.3,267.7 L474.4,267.8 L474.7,266.6 L475.1,266.1 L475.4,262.7 L475.7,262.8 L476.0,261.8 L476.4,261.3 L476.4,260.4 L476.7,259.1 L477.0,257.9 L477.4,257.5 L477.7,256.4 L478.0,255.0 L478.0,254.7 L478.4,254.5 L478.7,253.8 L479.0,252.8 L479.3,252.1 L479.5,252.2 L479.7,252.3 L480.0,252.9 L480.3,253.0 L480.7,253.2 L481.0,254.0 L481.0,253.6 L481.3,254.2 L481.7,254.4 L482.0,255.2 L482.3,255.8 L482.6,256.2 L483.0,257.4 L483.3,257.2 L483.6,258.5 L484.0,258.4 L484.3,259.5 L484.5,259.8 L484.6,259.5 L485.0,259.9 L485.3,259.9 L485.6,259.9 L485.9,260.4 L486.3,260.4 L486.6,260.4 L486.8,260.8 L486.9,260.4 L487.3,260.2 L487.6,260.1 L487.9,260.2 L488.3,259.5 L488.6,259.5 L488.9,259.3 L489.2,258.2 L489.6,258.7 L489.7,258.2 L489.9,257.9 L490.2,257.5 L490.6,256.4 L490.9,257.4 L491.2,256.5 L491.6,256.1 L491.9,256.2 L492.2,255.6 L492.5,255.9 L492.9,255.2 L493.0,255.0 L493.2,254.7 L493.5,254.3 L493.9,254.6 L494.2,252.8 L494.5,253.4 L494.9,252.4 L495.2,252.9 L495.5,252.8 L495.8,253.8 L496.2,253.2 L496.5,250.7 L496.8,251.9 L497.2,251.7 L497.5,251.2 L497.5,251.2 M498.9,249.7 L499.0,249.8 L501.8,246.7 M502.8,245.5 L505.6,242.3 M506.5,241.2 L508.4,239.0 L509.1,237.8 M509.8,236.7 L510.2,236.0 L511.9,232.8 M512.5,231.7 L514.6,227.7 M515.2,226.6 L517.0,222.6 M517.5,221.4 L519.3,217.4 M519.9,216.1 L520.4,215.0 L521.1,212.1 M521.5,210.5 L522.0,208.4 L522.6,206.7 M523.1,205.3 L524.5,201.3 M525.0,199.8 L526.4,195.9 M526.9,194.2 L528.0,190.1 M528.3,189.0 L529.4,184.9 M529.8,183.4 L529.9,183.0 L531.0,179.2 M531.4,177.9 L532.6,173.7 M533.0,172.4 L533.4,171.0 L534.2,168.2 M534.5,167.1 L535.7,162.9 M536.1,161.5 L537.3,157.3 M537.7,155.9 L538.7,152.4 L538.8,152.0 M539.2,150.4 L540.2,146.5 M540.6,145.0 L541.7,140.7 M542.0,139.5 L542.2,138.7 L544.6,136.4 M545.6,135.4 L546.0,135.0 L548.3,132.1 M549.2,130.9 L551.7,127.7 L551.8,127.6 M552.8,126.5 L555.8,123.1 M556.7,122.8 L557.0,122.4 L557.3,123.1 L557.7,121.0 L558.0,121.1 L558.3,120.6 L558.6,120.2 L559.0,119.9 L559.3,119.9 L559.6,119.6 L559.7,119.5 M560.7,118.4 L561.0,117.9 L561.3,117.4 L561.6,116.8 L561.9,117.3 L562.3,116.2 L562.6,116.2 L562.9,115.8 L563.3,114.2 L563.6,114.9 L563.6,114.9 M564.6,114.5 L564.9,115.1 L565.0,113.7 L565.2,113.8 L565.6,113.1 L565.9,113.1 L566.0,112.9 M566.0,112.9 L566.2,112.5 L566.6,112.3 L566.9,111.7 L567.2,111.4 L567.6,111.2 L567.9,110.8 L568.2,110.4 L568.5,110.2 L568.7,110.1 M569.3,109.6 L569.5,108.9 L569.9,109.6 L570.2,108.6 L570.5,108.4 L570.9,108.9 L571.2,107.7 L571.5,107.9 L571.8,107.3 L572.0,107.4 M572.6,106.6 L572.8,106.5 L573.2,106.5 L573.5,105.7 L573.8,106.2 L574.2,105.7 L574.5,104.8 L574.8,104.5 L575.1,105.4 L575.3,104.9 M575.9,104.1 L576.1,103.6 L576.5,103.7 L576.8,103.6 L577.1,103.3 L577.5,102.7 L577.8,101.3 L578.1,101.9 L578.4,101.7 L578.4,101.8 L578.6,101.5 M579.2,101.0 L579.4,101.2 L579.8,100.2 L580.1,100.5 L580.4,100.2 L580.8,99.9 L581.1,99.1 L581.4,99.0 L581.7,98.4 L581.9,98.4 M582.5,98.1 L582.7,97.7 L583.1,97.5 L583.4,97.1 L583.7,97.1 L584.1,96.6 L584.4,96.8 L584.7,96.1 L585.0,96.4 L585.3,95.7 M585.9,95.5 L586.0,95.3 L586.4,95.0 L586.7,94.7 L587.0,94.6 L587.4,94.0 L587.7,93.4 L588.0,93.6 L588.3,93.3 L588.6,92.9 M589.2,93.1 L589.3,93.4 L589.7,92.1 L590.0,92.2 L590.3,91.5 L590.7,91.4 L590.9,91.0 L591.0,91.1 L591.3,90.5 L591.6,90.0 L591.9,90.0 M592.5,89.9 L592.6,89.8 L593.0,89.4 L593.3,87.6 L593.6,88.3 L594.0,88.2 L594.3,88.3 L594.6,87.5 L594.9,87.0 L595.2,87.3 M595.8,86.7 L595.9,86.8 L596.3,86.2 L596.6,86.2 L596.9,85.5 L597.3,84.9 L597.6,85.4 L597.9,84.4 L598.2,84.3 L598.5,84.2 L598.5,84.2 M599.0,83.3 L599.2,83.1 L599.6,83.3 L599.9,82.3 L600.0,82.7 M600.0,82.7 L600.2,83.4 L600.6,82.1 L600.9,81.6 L601.2,80.8 L601.5,80.4 L601.9,79.9 L602.2,79.7 L602.5,79.6 L602.9,77.9 L603.2,78.6 L603.4,78.5 L603.5,78.3 L603.9,78.2 L604.2,78.1 L604.5,77.4 L604.8,77.5 L605.2,77.0 L605.5,76.6 L605.8,76.6 L606.2,76.2 L606.5,75.6 L606.8,75.2 L607.2,75.1 L607.5,74.3 L607.8,74.2 L608.1,74.5 L608.5,73.9 L608.8,73.2 L609.1,72.8 L609.5,72.6 L609.8,72.4 L610.0,72.3 L610.1,72.5 L610.5,71.0 L610.8,71.4 L611.1,71.4 L611.4,70.8 L611.8,69.5 L612.1,70.1 L612.4,69.8 L612.8,69.7 L613.1,69.7 L613.4,68.9 L613.8,68.8 L614.1,69.5 L614.4,68.3 L614.7,67.7 L615.1,67.4 L615.4,66.3 L615.7,67.2 L616.0,66.5 L616.1,66.7 L616.4,66.3 L616.7,65.8 L617.1,65.5 L617.4,65.2 L617.7,65.3 L618.0,64.4 L618.4,64.5 L618.7,63.3 L619.0,63.6 L619.4,63.6 L619.7,63.1 L620.0,63.1 L620.4,63.1 L620.7,62.1 L621.0,61.8 L621.3,62.1 L621.7,61.2 L621.7,61.5 L622.0,60.9 L622.3,61.3 L622.7,60.1 L623.0,59.9 L623.3,59.4 L623.7,59.3 L624.0,59.2 L624.3,58.7 L624.6,58.4 L625.0,58.3 L625.3,57.5 L625.6,57.4 L626.0,56.9 L626.3,56.4 L626.6,56.3 L627.0,56.4 L627.3,55.2 L627.6,55.0 L627.9,55.9 L628.3,54.7 L628.5,54.3 L628.6,53.8 L628.9,53.7 L629.3,53.1 L629.6,53.0 L629.9,53.3 L630.3,51.5 L630.6,52.4 L630.9,50.4 L631.2,50.1 L631.4,50.0 L631.6,50.2 L631.9,49.6 L632.2,47.7 L632.6,48.3 L632.9,48.9 L633.2,47.5 L633.6,46.9 L633.9,45.9 L634.2,45.4 L634.5,45.0 L634.9,44.4 L635.2,44.0 L635.5,43.6 L635.9,43.3 L636.2,42.4 L636.2,42.8 L636.5,42.2 L636.9,42.0 L637.2,41.2 L637.5,41.3 L637.8,40.5 L638.2,40.5 L638.5,38.7 L638.8,39.2 L639.2,38.5 L639.5,37.0 L639.8,37.8 L640.2,37.7 L640.5,37.0 L640.8,36.8 L641.0,36.4 L641.1,37.3 L641.5,36.0 L641.8,35.5 L642.1,34.3 L642.5,34.1 L642.8,34.1 L643.1,33.4 L643.5,33.0 L643.8,32.4 L644.1,31.8 L644.4,31.1 L644.8,30.6 L645.1,30.3 L645.4,29.8 L645.8,29.1 L645.8,29.2 L646.1,28.7 L646.4,28.1 L646.8,27.5 L647.1,27.4 L647.4,27.7 L647.7,26.4 L648.1,25.8 L648.4,25.6 L648.7,24.6 L649.0,24.2 L649.1,23.9 L649.4,23.4 L649.7,24.5 L650.6,22.4 L651.8,26.2" stroke="#800080" stroke-width="2.2"/>
<path d="M179.9,322.4 L287.5,322.6 L292.0,321.3 L298.0,319.2 L305.7,317.3 L338.2,317.3 L343.0,318.5 L347.8,322.1 L370.0,322.6 L385.0,322.8 L389.5,324.0 L390.5,320.0 L392.2,314.5 L396.0,309.5 L401.7,304.5 L405.0,301.6 L412.6,295.8 L413.0,295.9 L413.3,296.4 L413.7,296.2 L414.0,296.0 L414.3,296.5 L414.6,296.1 L415.0,296.2 L415.3,297.9 L415.6,297.0 L416.0,296.3 L416.3,296.8 L416.6,296.8 L417.0,297.2 L417.0,297.3 L417.3,297.4 L417.6,297.4 L417.9,297.5 L418.3,298.0 L418.6,297.9 L418.9,297.5 L419.3,296.9 L419.6,298.1 L419.9,298.3 L420.3,297.5 L420.6,298.4 L420.9,298.5 L421.2,297.8 L421.6,298.5 L421.9,297.9 L422.2,298.8 L422.6,298.1 L422.8,298.5 L422.9,299.3 L423.2,298.6 L423.6,298.3 L423.9,298.2 L424.2,298.2 L424.5,298.3 L424.9,299.0 L425.2,298.4 L425.5,298.4 L425.9,299.0 L426.2,298.3 L426.5,298.4 L426.9,298.9 L427.2,297.9 L427.5,299.6 L427.8,298.7 L428.2,298.7 L428.5,299.1 L428.8,298.5 L429.2,299.1 L429.5,298.5 L429.8,299.2 L430.2,299.2 L430.5,298.9 L430.8,299.6 L431.1,299.1 L431.5,299.2 L431.7,298.9 L431.8,298.7 L432.1,297.9 L432.5,299.0 L432.8,298.4 L433.1,299.1 L433.5,298.3 L433.8,299.5 L434.1,298.7 L434.4,298.5 L434.8,299.0 L435.1,298.7 L435.4,297.6 L435.8,298.4 L436.1,298.0 L436.4,299.3 L436.8,299.4 L437.1,298.7 L437.4,298.5 L437.7,298.7 L438.1,298.4 L438.4,298.6 L438.7,298.4 L439.1,298.2 L439.4,298.0 L439.7,298.2 L440.1,298.2 L440.4,298.4 L440.6,298.0 L440.7,297.9 L441.0,297.9 L441.4,298.0 L441.7,296.7 L442.0,297.2 L442.4,297.3 L442.7,297.6 L443.0,296.6 L443.4,297.1 L443.7,296.5 L444.0,296.8 L444.3,296.9 L444.7,296.6 L445.0,296.3 L445.3,296.6 L445.7,296.0 L446.0,295.8 L446.3,295.8 L446.7,296.0 L447.0,296.0 L447.3,295.1 L447.6,295.1 L447.7,295.3 L448.0,295.0 L448.3,294.8 L448.6,294.9 L449.0,293.5 L449.3,294.2 L449.6,293.7 L450.0,293.8 L450.3,293.5 L450.6,292.9 L450.9,292.7 L451.3,292.9 L451.6,292.1 L451.9,292.2 L452.3,291.1 L452.6,291.6 L452.9,291.0 L453.1,291.3 L453.3,291.3 L453.6,290.5 L453.9,290.5 L454.2,290.0 L454.6,289.4 L454.9,289.4 L455.2,289.1 L455.6,287.9 L455.9,288.0 L456.2,287.3 L456.6,287.4 L456.9,287.0 L457.0,286.5 L457.2,286.3 L457.5,285.9 L457.9,285.4 L458.2,284.6 L458.5,284.8 L458.9,284.0 L459.2,283.3 L459.5,283.3 L459.9,282.2 L460.2,282.2 L460.5,280.8 L460.8,280.8 L461.0,281.0 L461.2,280.8 L461.5,279.8 L461.8,279.5 L463.7,275.0 L466.5,264.6 L468.4,259.0 L470.4,246.0 L471.7,239.0 L473.7,229.0 L475.0,229.7 L477.3,236.0 L479.7,242.4 L482.5,238.0 L485.7,233.7 L492.4,224.4 L498.5,219.0 L501.7,215.0 L506.7,205.7 L512.0,195.0 L516.0,183.0 L520.0,171.0 L524.7,155.0 L528.2,141.0 L533.4,135.0 L538.4,127.7 L551.7,113.0 L556.0,109.1 L556.3,108.9 L556.7,108.5 L557.0,107.9 L557.3,107.9 L557.7,107.1 L558.0,107.4 L558.3,106.9 L558.6,106.7 L559.0,106.0 L559.3,105.8 L559.6,105.5 L560.0,105.8 L560.3,105.2 L560.6,104.5 L561.0,104.3 L561.3,104.8 L561.6,104.0 L561.9,103.1 L562.3,102.7 L562.6,102.9 L562.9,102.3 L563.3,101.8 L563.6,102.1 L563.9,100.7 L564.3,100.7 L564.6,101.0 L564.9,100.5 L565.0,100.4 L565.2,100.3 L565.6,100.0 L565.9,99.8 L566.2,99.0 L566.6,99.3 L566.9,98.8 L567.2,98.5 L567.6,98.0 L567.9,98.0 L568.2,98.0 L568.5,97.3 L568.9,97.2 L569.2,96.6 L569.5,96.3 L569.9,96.6 L570.2,95.7 L570.5,95.7 L570.9,95.5 L571.2,94.9 L571.5,95.1 L571.8,94.6 L572.2,94.6 L572.5,94.2 L572.8,93.6 L573.2,93.7 L573.5,93.9 L573.8,92.6 L574.2,92.9 L574.5,92.7 L574.8,91.7 L575.1,91.7 L575.5,91.4 L575.8,91.2 L576.1,89.8 L576.5,90.4 L576.8,90.6 L577.1,89.8 L577.5,88.7 L577.8,89.7 L578.1,89.4 L578.4,89.0 L578.4,89.1 L578.8,89.1 L579.1,88.3 L579.4,88.4 L579.8,88.2 L580.1,88.1 L580.4,87.7 L580.8,87.5 L581.1,87.8 L581.4,86.5 L581.7,86.9 L582.1,85.9 L582.4,86.4 L582.7,85.6 L583.1,86.6 L583.4,85.5 L583.7,84.0 L583.8,85.0 L584.1,84.5 L584.4,84.0 L584.7,83.9 L585.0,83.5 L585.4,83.4 L585.7,83.4 L586.0,83.0 L586.4,81.4 L586.7,82.3 L587.0,81.9 L587.4,81.3 L587.7,80.8 L588.0,80.3 L588.3,80.0 L588.7,79.8 L589.0,79.8 L589.3,78.1 L589.7,78.9 L590.0,79.5 L590.0,78.4 L590.3,77.8 L590.7,77.0 L591.0,77.5 L591.3,77.1 L591.6,77.4 L592.0,76.7 L592.3,76.7 L592.6,75.9 L593.0,75.8 L593.3,75.2 L593.6,75.0 L594.0,75.2 L594.3,74.6 L594.6,74.4 L594.9,74.2 L595.3,74.3 L595.6,73.4 L595.9,73.7 L596.3,73.2 L596.6,72.6 L596.9,72.6 L597.3,72.3 L597.6,71.7 L597.9,72.1 L598.2,70.7 L598.6,70.4 L598.9,69.7 L599.2,70.3 L599.6,70.7 L599.9,69.9 L600.2,69.7 L600.6,69.7 L600.9,69.1 L601.2,69.1 L601.5,68.5 L601.9,68.2 L602.2,67.7 L602.5,67.8 L602.9,67.7 L603.2,66.9 L603.4,67.0 L603.5,66.9 L603.9,66.4 L604.2,66.2 L604.5,66.1 L604.8,66.3 L605.2,65.4 L605.5,64.7 L605.8,64.7 L606.2,64.0 L606.5,64.1 L606.8,63.3 L607.2,63.3 L607.4,63.0 L607.5,63.3 L607.8,62.5 L608.1,62.0 L608.5,61.7 L608.8,61.7 L609.1,60.9 L609.5,60.5 L609.8,60.1 L610.1,59.9 L610.5,59.5 L610.8,59.1 L611.1,58.9 L611.4,57.3 L611.8,57.9 L612.1,57.6 L612.4,56.7 L612.8,56.9 L613.1,56.0 L613.4,56.3 L613.8,55.7 L614.1,55.4 L614.4,54.6 L614.7,54.6 L614.9,54.2 L615.1,54.2 L615.4,53.4 L615.7,53.2 L616.1,52.6 L616.4,52.3 L616.7,51.6 L617.1,51.3 L617.4,51.0 L617.7,50.6 L618.0,49.9 L618.4,49.5 L618.7,48.8 L619.0,48.1 L619.4,48.4 L619.7,47.2 L620.0,47.0 L620.4,47.6 L620.7,46.0 L621.0,46.0 L621.3,46.4 L621.7,44.4 L621.7,44.7 L622.0,44.1 L622.3,43.8 L622.7,43.7 L623.0,43.0 L623.3,42.6 L623.7,42.4 L624.0,42.4 L624.3,41.6 L624.6,41.7 L625.0,41.1 L625.3,40.7 L625.6,39.9 L626.0,40.2 L626.3,39.6 L626.6,39.0 L627.0,38.9 L627.3,38.1 L627.6,38.0 L627.9,37.9 L628.3,37.1 L628.4,37.2 L628.6,36.8 L628.9,36.7 L629.3,36.0 L629.6,35.3 L629.9,34.7 L630.3,34.1 L630.6,34.3 L630.9,33.2 L631.2,33.2 L631.6,32.5 L631.9,32.4 L632.2,31.8 L632.6,31.3 L632.9,30.9 L633.2,30.4 L633.6,29.7 L633.7,29.4 L633.9,28.9 L634.2,28.6 L634.5,28.0 L634.9,27.9 L635.2,27.4 L635.5,26.7 L635.9,26.6 L636.2,26.5 L636.5,25.4 L636.9,25.5 L637.2,25.0 L637.5,24.1 L637.8,24.3 L638.2,23.7 L638.5,23.1 L638.8,22.6 L639.3,22.2 L640.6,26.6" stroke="#000000" stroke-width="2.2"/>
<path d="M167.4,82.55 H660.9" stroke="#808080" stroke-width="2.2"/>
</g>
<g stroke="#959595" stroke-width="1" fill="none">
<rect x="106.5" y="4.55" width="587.8" height="363.8"/>
<path d="M168.45,368.4v-5.8M168.45,4.55v5.8M238.71,368.4v-3.2M238.71,4.55v3.2M308.97,368.4v-5.8M308.97,4.55v5.8M379.23,368.4v-3.2M379.23,4.55v3.2M449.49,368.4v-5.8M449.49,4.55v5.8M519.75,368.4v-3.2M519.75,4.55v3.2M590.01,368.4v-5.8M590.01,4.55v5.8M660.27,368.4v-3.2M660.27,4.55v3.2M106.5,356.50h2.9M694.25,356.50h-2.9M106.5,344.50h2.9M694.25,344.50h-2.9M106.5,335.50h2.9M694.25,335.50h-2.9M106.5,327.50h2.9M694.25,327.50h-2.9M106.5,321.50h2.9M694.25,321.50h-2.9M106.5,316.50h2.9M694.25,316.50h-2.9M106.5,311.50h2.9M694.25,311.50h-2.9M106.5,307.50h5.6M694.25,307.50h-5.6M106.5,278.50h2.9M694.25,278.50h-2.9M106.5,262.50h2.9M694.25,262.50h-2.9M106.5,250.50h2.9M694.25,250.50h-2.9M106.5,241.50h2.9M694.25,241.50h-2.9M106.5,234.50h2.9M694.25,234.50h-2.9M106.5,227.50h2.9M694.25,227.50h-2.9M106.5,222.50h2.9M694.25,222.50h-2.9M106.5,217.50h2.9M694.25,217.50h-2.9M106.5,213.50h5.6M694.25,213.50h-5.6M106.5,185.50h2.9M694.25,185.50h-2.9M106.5,168.50h2.9M694.25,168.50h-2.9M106.5,157.50h2.9M694.25,157.50h-2.9M106.5,148.50h2.9M694.25,148.50h-2.9M106.5,140.50h2.9M694.25,140.50h-2.9M106.5,134.50h2.9M694.25,134.50h-2.9M106.5,128.50h2.9M694.25,128.50h-2.9M106.5,124.50h2.9M694.25,124.50h-2.9M106.5,119.50h5.6M694.25,119.50h-5.6M106.5,91.50h2.9M694.25,91.50h-2.9M106.5,75.50h2.9M694.25,75.50h-2.9M106.5,63.50h2.9M694.25,63.50h-2.9M106.5,54.50h2.9M694.25,54.50h-2.9M106.5,47.50h2.9M694.25,47.50h-2.9M106.5,40.50h2.9M694.25,40.50h-2.9M106.5,35.50h2.9M694.25,35.50h-2.9M106.5,30.50h2.9M694.25,30.50h-2.9M106.5,26.50h5.6M694.25,26.50h-5.6" stroke-width="0.85"/>
</g>
<g class="sans" fill="#000">
<path d="M99.01,32.90L97.03,32.90L97.03,20.30Q96.32,20.98 95.16,21.66Q94.00,22.34 93.08,22.68L93.08,20.77Q94.73,19.99 95.98,18.88Q97.22,17.77 97.73,16.73L99.01,16.73Z" fill="#000"/>
<text x="47.36" y="126.5" font-size="23.0">0</text>
<text x="59.74" y="126.5" font-size="23.0">.</text>
<text x="77.95" y="126.5" font-size="23.0">0</text>
<text x="90.19" y="126.5" font-size="23.0">0</text>
<path d="M74.54,126.50L72.56,126.50L72.56,113.90Q71.85,114.58 70.69,115.26Q69.53,115.94 68.61,116.28L68.61,114.37Q70.26,113.59 71.51,112.48Q72.75,111.37 73.26,110.33L74.54,110.33Z" fill="#000"/>
<text x="47.36" y="220.1" font-size="23.0">0</text>
<text x="59.74" y="220.1" font-size="23.0">.</text>
<text x="65.72" y="220.1" font-size="23.0">0</text>
<text x="90.19" y="220.1" font-size="23.0">0</text>
<path d="M86.77,220.10L84.80,220.10L84.80,207.50Q84.08,208.18 82.92,208.86Q81.76,209.54 80.84,209.88L80.84,207.97Q82.50,207.19 83.74,206.08Q84.98,204.97 85.50,203.93L86.77,203.93Z" fill="#000"/>
<text x="47.36" y="313.7" font-size="23.0">0</text>
<text x="59.74" y="313.7" font-size="23.0">.</text>
<text x="65.72" y="313.7" font-size="23.0">0</text>
<text x="77.95" y="313.7" font-size="23.0">0</text>
<path d="M99.01,313.70L97.03,313.70L97.03,301.10Q96.32,301.78 95.16,302.46Q94.00,303.14 93.08,303.48L93.08,301.57Q94.73,300.79 95.98,299.68Q97.22,298.57 97.73,297.53L99.01,297.53Z" fill="#000"/>
<text x="156.06" y="391.9" font-size="23.0">0</text>
<text x="168.29" y="391.9" font-size="23.0">0</text>
<text x="180.53" y="391.9" font-size="23.0">0</text>
<path d="M152.64,391.90L150.67,391.90L150.67,379.30Q149.95,379.98 148.79,380.66Q147.63,381.34 146.71,381.68L146.71,379.77Q148.37,378.99 149.61,377.88Q150.85,376.77 151.37,375.73L152.64,375.73Z" fill="#000"/>
<path d="M300.31,393.80L298.34,393.80L298.34,381.20Q297.62,381.88 296.46,382.56Q295.30,383.24 294.38,383.58L294.38,381.67Q296.04,380.89 297.28,379.78Q298.52,378.67 299.04,377.63L300.31,377.63Z" fill="#000"/>
<text x="304.83" y="393.8" font-size="23.0">0</text>
<text x="316.27" y="384.15" font-size="15.1">5</text>
<path d="M440.83,393.80L438.86,393.80L438.86,381.20Q438.14,381.88 436.98,382.56Q435.82,383.24 434.90,383.58L434.90,381.67Q436.56,380.89 437.80,379.78Q439.04,378.67 439.56,377.63L440.83,377.63Z" fill="#000"/>
<text x="445.35" y="393.8" font-size="23.0">0</text>
<text x="456.79" y="384.15" font-size="15.1">7</text>
<path d="M581.35,393.80L579.38,393.80L579.38,381.20Q578.66,381.88 577.50,382.56Q576.34,383.24 575.42,383.58L575.42,381.67Q577.08,380.89 578.32,379.78Q579.56,378.67 580.08,377.63L581.35,377.63Z" fill="#000"/>
<text x="585.87" y="393.8" font-size="23.0">0</text>
<text x="597.31" y="384.15" font-size="15.1">9</text>
</g>
<g class="serif" fill="#707070">
<text x="400" y="423.5" font-size="21.2" letter-spacing="0.28" text-anchor="middle">Age (yrs)</text>
<g transform="translate(34.7,238.8) rotate(-90)" font-size="22.3"><text x="0.0" y="0">R</text><text x="14.4" y="-7.8" font-size="15.6">c</text><text x="14.6" y="4.8" font-size="15.6">o</text><text x="23.0" y="0">(</text><text x="30.6" y="0">Δ</text><text x="44.4" y="0">R</text><text x="58.8" y="2.9" font-size="15.8">CZ</text><path d="M80.5,3.0 L86.1,-15.4" stroke="#707070" stroke-width="1.1" fill="none"/><text x="86.8" y="0">2</text><text x="98.1" y="0">)</text></g>
</g>
<rect x="713.5" y="58.5" width="99" height="279.8" fill="#fff" stroke="#dedede" stroke-width="1"/>
<g class="serif" font-size="20.5" fill="#000">
<path d="M718.1,78.7 H749" stroke="#996633" stroke-width="1.45" fill="none"/>
<text x="751.2" y="83.7">0.6 M</text>
<circle cx="806.3" cy="84.9" r="4.0" fill="none" stroke="#000" stroke-width="0.8"/>
<circle cx="806.3" cy="84.9" r="0.95" fill="#000"/>
<path d="M718.1,112.9 H749" stroke="#ff0000" stroke-width="1.45" fill="none" stroke-dasharray="6.4 3.55"/>
<text x="751.2" y="117.9">0.7 M</text>
<circle cx="806.3" cy="119.1" r="4.0" fill="none" stroke="#000" stroke-width="0.8"/>
<circle cx="806.3" cy="119.1" r="0.95" fill="#000"/>
<path d="M718.1,147.0 H749" stroke="#ff8000" stroke-width="1.45" fill="none" stroke-dasharray="5.3 2.65"/>
<text x="751.2" y="152.0">0.8 M</text>
<circle cx="806.3" cy="153.2" r="4.0" fill="none" stroke="#000" stroke-width="0.8"/>
<circle cx="806.3" cy="153.2" r="0.95" fill="#000"/>
<path d="M718.1,181.2 H749" stroke="#008000" stroke-width="1.45" fill="none" stroke-dasharray="4.2 1.77"/>
<text x="751.2" y="186.2">0.9 M</text>
<circle cx="806.3" cy="187.4" r="4.0" fill="none" stroke="#000" stroke-width="0.8"/>
<circle cx="806.3" cy="187.4" r="0.95" fill="#000"/>
<path d="M718.1,215.4 H749" stroke="#000080" stroke-width="1.45" fill="none" stroke-dasharray="2.7 1.13"/>
<text x="752.3" y="220.4">1.0 M</text>
<circle cx="806.3" cy="221.6" r="4.0" fill="none" stroke="#000" stroke-width="0.8"/>
<circle cx="806.3" cy="221.6" r="0.95" fill="#000"/>
<path d="M718.1,249.6 H749" stroke="#800080" stroke-width="1.45" fill="none"/>
<text x="752.3" y="254.6">1.1 M</text>
<circle cx="806.3" cy="255.8" r="4.0" fill="none" stroke="#000" stroke-width="0.8"/>
<circle cx="806.3" cy="255.8" r="0.95" fill="#000"/>
<path d="M718.1,283.7 H749" stroke="#000000" stroke-width="1.45" fill="none"/>
<text x="752.3" y="288.7">1.2 M</text>
<circle cx="806.3" cy="289.9" r="4.0" fill="none" stroke="#000" stroke-width="0.8"/>
<circle cx="806.3" cy="289.9" r="0.95" fill="#000"/>
<path d="M718.1,317.5 H749" stroke="#808080" stroke-width="2" fill="none"/>
<text x="751.6" y="323.4">R</text>
<text x="766.0" y="316.7" font-size="14.3">c;t</text>
<text x="766.0" y="328.3" font-size="14.3">o</text>
</g>
</svg>
</body></html>
